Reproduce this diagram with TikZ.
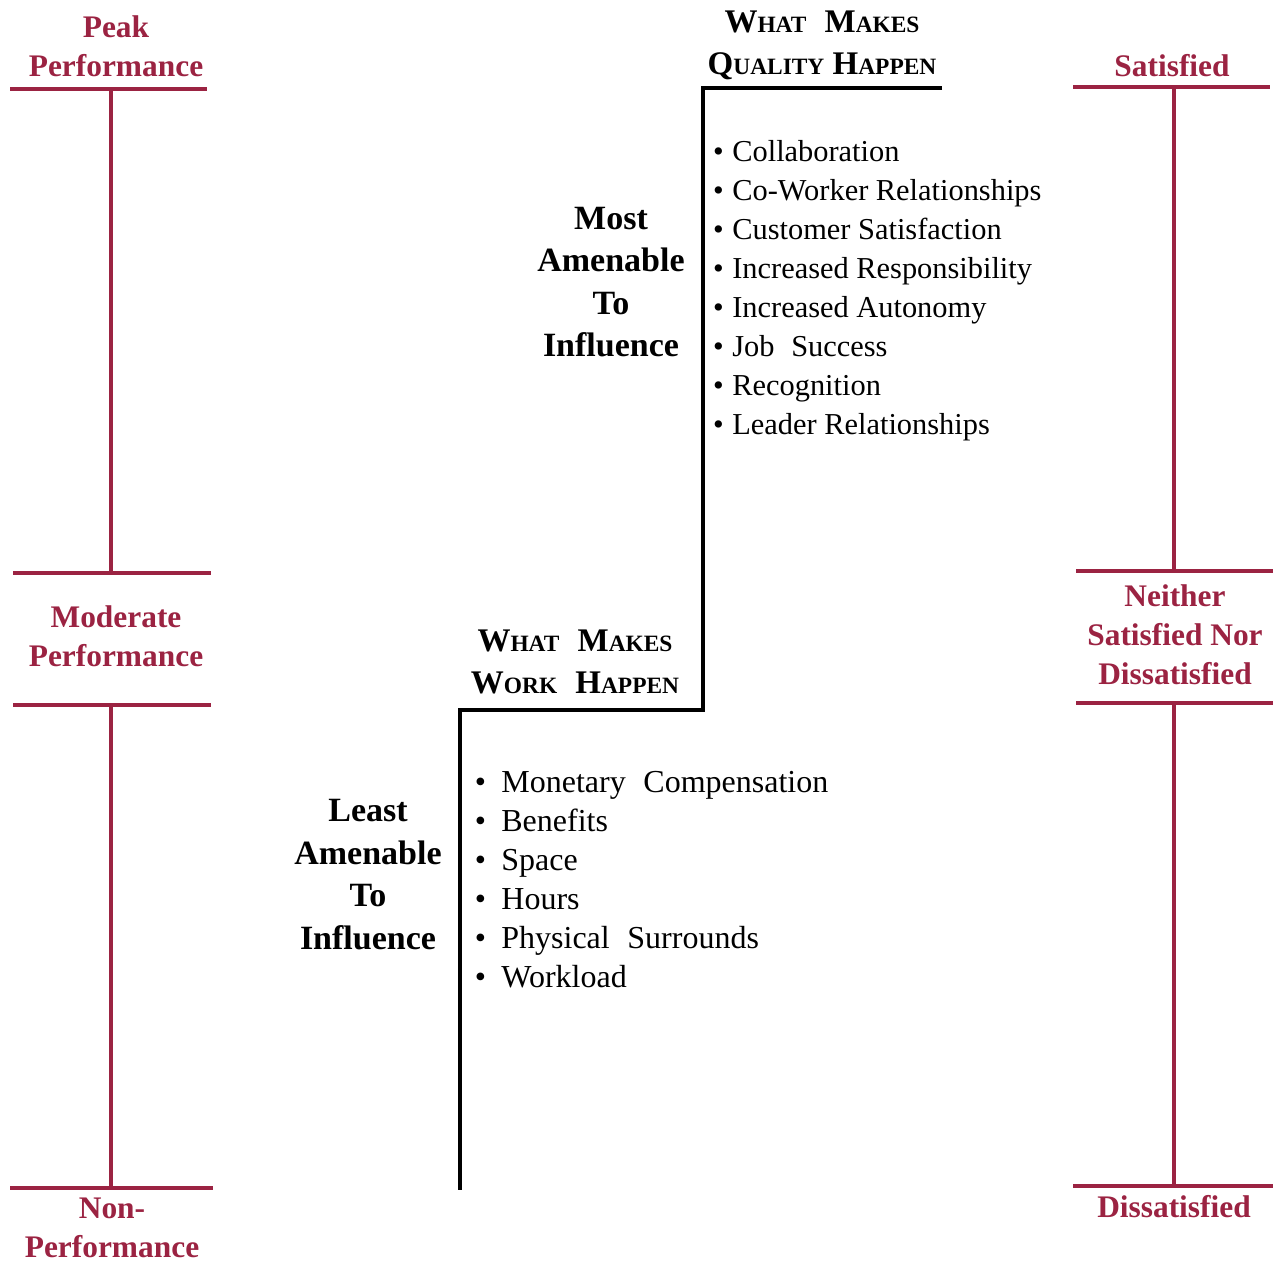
\documentclass[tikz,border=0pt]{standalone}
\usepackage{fontspec}
\setmainfont{Liberation Serif}
\definecolor{wine}{RGB}{155,35,66}
% faked small caps: full-size initial, reduced capitals after it
\newcommand{\smc}[2]{#1{\fontsize{11.7}{12}\selectfont #2}}
\newcommand{\wsp}{\hspace{0.55em}}
\begin{document}
% multi-line nodes are placed by the baseline of their last line
\begin{tikzpicture}[x=0.5pt,y=-0.5pt,
  bar/.style={wine,line width=2pt},
  stair/.style={black,line width=2pt,line join=miter},
  rlabel/.style={text=wine,font=\bfseries\fontsize{15.7}{19.5}\selectfont,align=center,anchor=base,inner sep=0pt},
  zone/.style={font=\bfseries\fontsize{17}{21.25}\selectfont,align=center,anchor=base,inner sep=0pt},
  head/.style={font=\bfseries\fontsize{16.5}{20.75}\selectfont,align=center,anchor=base,inner sep=0pt},
  toplist/.style={font=\fontsize{15.2}{19.5}\selectfont,align=left,anchor=base west,inner sep=0pt},
  lowlist/.style={font=\fontsize{16}{19.5}\selectfont,align=left,anchor=base west,inner sep=0pt}]
\useasboundingbox (0,0) rectangle (1274,1260);

% performance scale (left)
\draw[bar] (10,89) -- (207,89);
\draw[bar] (111,89) -- (111,573);
\draw[bar] (13,573) -- (211,573);
\draw[bar] (13,705) -- (211,705);
\draw[bar] (111,705) -- (111,1188);
\draw[bar] (10,1188) -- (213,1188);
\node[rlabel] (peak) at (116,76) {Peak\\Performance};
\node[rlabel] (moderate) at (116,666) {Moderate\\Performance};
\node[rlabel] (nonperf) at (112,1257) {Non-\\Performance};

% satisfaction scale (right)
\draw[bar] (1073,87) -- (1270,87);
\draw[bar] (1174,87) -- (1174,571);
\draw[bar] (1076,571) -- (1273,571);
\draw[bar] (1076,703) -- (1273,703);
\draw[bar] (1174,703) -- (1174,1186);
\draw[bar] (1073,1186) -- (1273,1186);
\node[rlabel] (satisfied) at (1172,76) {Satisfied};
\node[rlabel] (neither) at (1175,684) {Neither\\Satisfied Nor\\Dissatisfied};
\node[rlabel] (dissatisfied) at (1174,1217) {Dissatisfied};

% the step between the two groups of factors
\draw[stair] (942,88) -- (703,88) -- (703,710) -- (460,710) -- (460,1190);

\node[head] (quality) at (822,74) {\smc{W}{HAT}\wsp\smc{M}{AKES}\\\smc{Q}{UALITY} \smc{H}{APPEN}};
\node[head] (work) at (575,693) {\smc{W}{HAT}\wsp\smc{M}{AKES}\\\smc{W}{ORK}\wsp\smc{H}{APPEN}};

\node[zone] (most) at (611,356.5) {Most\\Amenable\\To\\Influence};
\node[zone] (least) at (368,949) {Least\\Amenable\\To\\Influence};

\node[toplist] (motivators) at (712.75,434) {%
  \makebox[9.6pt][l]{\textbullet}Collaboration\\
  \makebox[9.6pt][l]{\textbullet}Co-Worker Relationships\\
  \makebox[9.6pt][l]{\textbullet}Customer Satisfaction\\
  \makebox[9.6pt][l]{\textbullet}Increased Responsibility\\
  \makebox[9.6pt][l]{\textbullet}Increased Autonomy\\
  \makebox[9.6pt][l]{\textbullet}Job\wsp Success\\
  \makebox[9.6pt][l]{\textbullet}Recognition\\
  \makebox[9.6pt][l]{\textbullet}Leader Relationships};

\node[lowlist] (hygiene) at (474.4,987) {%
  \makebox[13.3pt][l]{\textbullet}Monetary\wsp Compensation\\
  \makebox[13.3pt][l]{\textbullet}Benefits\\
  \makebox[13.3pt][l]{\textbullet}Space\\
  \makebox[13.3pt][l]{\textbullet}Hours\\
  \makebox[13.3pt][l]{\textbullet}Physical\wsp Surrounds\\
  \makebox[13.3pt][l]{\textbullet}Workload};
\end{tikzpicture}
\end{document}
